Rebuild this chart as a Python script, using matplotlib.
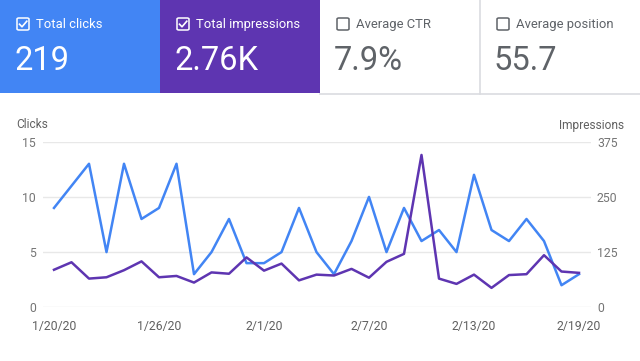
import matplotlib
matplotlib.use("Agg")
import matplotlib.pyplot as plt
from matplotlib.patches import Rectangle, FancyBboxPatch
from matplotlib.lines import Line2D

plt.rcParams['font.family'] = ['Roboto', 'DejaVu Sans']

# ---- data ----
dates = ["1/20/20", "1/21/20", "1/22/20", "1/23/20", "1/24/20", "1/25/20", "1/26/20",
         "1/27/20", "1/28/20", "1/29/20", "1/30/20", "1/31/20", "2/1/20", "2/2/20",
         "2/3/20", "2/4/20", "2/5/20", "2/6/20", "2/7/20", "2/8/20", "2/9/20",
         "2/10/20", "2/11/20", "2/12/20", "2/13/20", "2/14/20", "2/15/20", "2/16/20",
         "2/17/20", "2/18/20", "2/19/20"]
clicks = [9, 11, 13, 5, 13, 8, 9, 13, 3, 5, 8, 4, 4, 5, 9, 5, 3, 6, 10, 5, 9, 6, 7, 5,
          12, 7, 6, 8, 6, 2, 3]
impressions = [85, 102, 65, 68, 84, 104, 68, 71, 56, 79, 76, 113, 83, 99, 61, 74, 72,
               87, 67, 103, 121, 345, 65, 53, 74, 44, 73, 75, 118, 81, 78]
tick_dates = ["1/20/20", "1/26/20", "2/1/20", "2/7/20", "2/13/20", "2/19/20"]
clicks_ticks = [0, 5, 10, 15]
impr_ticks = [0, 125, 250, 375]

tiles = [
    ("Total clicks", "219", "#4285f4", True),
    ("Total impressions", "2.76K", "#5e35b1", True),
    ("Average CTR", "7.9%", "#ffffff", False),
    ("Average position", "55.7", "#ffffff", False),
]

W, H = 640, 361
fig = plt.figure(figsize=(W / 100, H / 100), dpi=100)
fig.patch.set_facecolor("white")

def fx(x):
    return x / W

def fy(y):
    return 1 - y / H

GREY = "#5f6368"
# ---- tiles ----
tw = 160
th = 93
for i, (title, value, color, on) in enumerate(tiles):
    x0 = i * tw
    fig.patches.append(Rectangle((fx(x0), fy(th)), fx(tw), th / H, transform=fig.transFigure,
                                 facecolor=color, edgecolor="none", zorder=0))
    tc = "white" if on else GREY
    # checkbox
    bx, by, bs = x0 + 17, 18, 12
    fig.patches.append(FancyBboxPatch((fx(bx), fy(by + bs)), fx(bs), bs / H,
                                      boxstyle="round,pad=0,rounding_size=0.003",
                                      transform=fig.transFigure, facecolor="none",
                                      edgecolor=tc, linewidth=1.1, zorder=2))
    if on:
        fig.lines.append(Line2D([fx(bx + 2.5), fx(bx + 5), fx(bx + 9.8)],
                                [fy(by + 6.2), fy(by + 8.8), fy(by + 3.2)],
                                transform=fig.transFigure, color="white", linewidth=1.2,
                                zorder=3))
    fig.text(fx(x0 + 36), fy(24.5), title, fontsize=9.4, color=tc, va="center", ha="left")
    fig.text(fx(x0 + 14), fy(70.5), value, fontsize=23.5, color=tc, va="baseline", ha="left")

# borders for white tiles
fig.lines.append(Line2D([fx(320), fx(640)], [fy(93.5), fy(93.5)], transform=fig.transFigure,
                        color="#dadce0", linewidth=1.2))
fig.lines.append(Line2D([fx(479.5), fx(479.5)], [fy(0), fy(93.5)], transform=fig.transFigure,
                        color="#dadce0", linewidth=1.2))

# ---- chart ----
left, right = 43, 591
top, bottom = 141.7, 307.3
ax = fig.add_axes([fx(left), fy(bottom), (right - left) / W, (bottom - top) / H])
ax2 = ax.twinx()
x = list(range(len(dates)))
spacing = (579 - 54) / 30
ax.set_xlim(-(54 - left) / spacing, 30 + (right - 579) / spacing)

ax.set_ylim(0, 15)
ax2.set_ylim(0, 375)
ax.set_yticks(clicks_ticks)
ax2.set_yticks(impr_ticks)
ax.set_yticklabels([str(t) for t in clicks_ticks])
ax2.set_yticklabels([str(t) for t in impr_ticks])
ax.set_xticks([dates.index(d) for d in tick_dates])
ax.set_xticklabels(tick_dates)

for a in (ax, ax2):
    for s in a.spines.values():
        s.set_visible(False)
    a.set_facecolor("none")
ax.grid(axis="y", color="#e8e8e8", linewidth=1)
ax.tick_params(axis="y", length=0, pad=5, labelsize=8.8, labelcolor="#757575")
ax2.tick_params(axis="y", length=0, pad=4.3, labelsize=8.8, labelcolor="#757575")
ax.tick_params(axis="x", length=0, pad=9, labelsize=8.8, labelcolor="#616161")

ax.plot(x, clicks, color="#4285f4", linewidth=1.8, zorder=3, clip_on=False)
ax2.plot(x, impressions, color="#5e35b1", linewidth=1.8, zorder=3, clip_on=False)

fig.text(fx(16), fy(125), "Clicks", fontsize=8.6, color="#616161", va="center", ha="left")
fig.text(fx(624), fy(125), "Impressions", fontsize=8.6, color="#616161", va="center", ha="right")

fig.savefig("out.png", dpi=100, facecolor="white")
